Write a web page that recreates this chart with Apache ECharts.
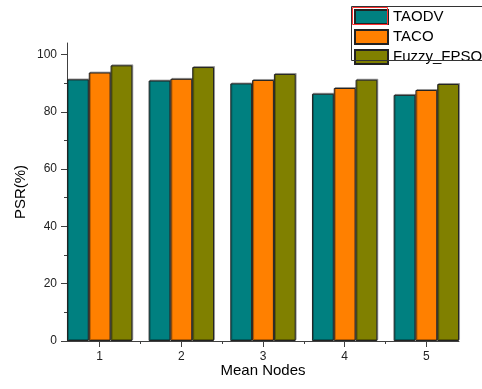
<!DOCTYPE html>
<html><head><meta charset="utf-8">
<script src="https://cdn.jsdelivr.net/npm/echarts@6/dist/echarts.min.js"></script>
<style>html,body{margin:0;padding:0;background:#fff}#c{width:482px;height:389px}</style>
</head><body><div id="c"></div>
<script>
const categories = [1, 2, 3, 4, 5];
const seriesNames = ['TAODV', 'TACO', 'Fuzzy_FPSO'];
const taodv = [91.3, 90.9, 89.9, 86.3, 85.9];
const taco = [93.7, 91.5, 91.1, 88.3, 87.6];
const fuzzy = [96.2, 95.6, 93.2, 91.2, 89.7];
const yTicks = [0, 20, 40, 60, 80, 100];
const yMinor = [10, 30, 50, 70, 90];
const xMinor = [1.5, 2.5, 3.5, 4.5];

const FONT = 'Arial, "Liberation Sans", sans-serif';
const colors = ['#008080', '#FF8000', '#808000'];
const values = [taodv, taco, fuzzy];
const chart = echarts.init(document.getElementById('c'), null, {renderer: 'canvas'});
const axisColor = '#404040';

chart.setOption({
  animation: false,
  backgroundColor: '#fff',
  grid: {left: 67, right: 23, top: 43, bottom: 48},
  legend: {
    orient: 'vertical', left: 354, top: 9, padding: 0,
    itemWidth: 33, itemHeight: 14, itemGap: 4,
    icon: 'rect',
    textStyle: {fontFamily: FONT, fontSize: 15, color: '#000'},
    data: seriesNames
  },
  graphic: [
    {type: 'rect', shape: {x: 351.5, y: 6.5, width: 140, height: 54}, style: {fill: null, stroke: '#333', lineWidth: 1}, z: 100},
    {type: 'rect', shape: {x: 352.5, y: 7.5, width: 35, height: 17}, style: {fill: null, stroke: '#ff3030', lineWidth: 1}, z: 101}
  ],
  xAxis: [{
    type: 'value', min: 0.6, max: 5.4,
    name: 'Mean Nodes', nameLocation: 'middle', nameGap: 22, nameMoveOverlap: false,
    nameTextStyle: {fontFamily: FONT, fontSize: 15, color: '#000'},
    axisLine: {show: true, lineStyle: {color: axisColor}},
    axisTick: {show: true, customValues: categories, length: 6, lineStyle: {color: axisColor}},
    axisLabel: {customValues: categories, fontFamily: FONT, fontSize: 12, color: '#222', margin: 10},
    splitLine: {show: false}
  }, {
    type: 'value', min: 0.6, max: 5.4, position: 'bottom',
    axisLine: {show: false},
    axisTick: {show: true, customValues: xMinor, length: 3, lineStyle: {color: axisColor}},
    axisLabel: {show: false},
    splitLine: {show: false}
  }],
  yAxis: [{
    type: 'value', min: 0, max: 104,
    name: 'PSR(%)', nameLocation: 'middle', nameGap: 39, nameRotate: 90, nameMoveOverlap: false,
    nameTextStyle: {fontFamily: FONT, fontSize: 15, color: '#000'},
    axisLine: {show: true, lineStyle: {color: axisColor}},
    axisTick: {show: true, customValues: yTicks, length: 6, lineStyle: {color: axisColor}},
    axisLabel: {customValues: yTicks, fontFamily: FONT, fontSize: 12, color: '#222', margin: 10},
    splitLine: {show: false}
  }, {
    type: 'value', min: 0, max: 104, position: 'left',
    axisLine: {show: false},
    axisTick: {show: true, customValues: yMinor, length: 3, lineStyle: {color: axisColor}},
    axisLabel: {show: false},
    splitLine: {show: false}
  }],
  series: seriesNames.map((name, k) => ({
    name: name, type: 'bar', xAxisIndex: 0, yAxisIndex: 0,
    barWidth: 21.8, barGap: '0%',
    itemStyle: {color: colors[k], borderColor: '#222', borderWidth: 1,
      shadowColor: 'rgba(0,0,0,0.3)', shadowOffsetX: 1, shadowOffsetY: -1, shadowBlur: 0},
    data: categories.map((c, i) => [c, values[k][i]])
  }))
});
</script></body></html>
